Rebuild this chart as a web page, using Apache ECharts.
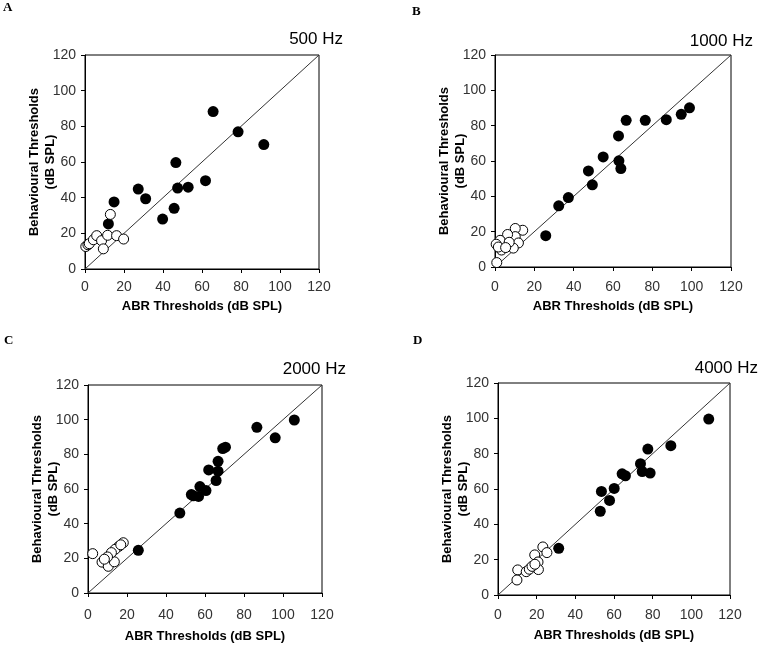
<!DOCTYPE html>
<html>
<head>
<meta charset="utf-8">
<script src="https://cdn.jsdelivr.net/npm/echarts@6/dist/echarts.min.js"></script>
<style>
html,body{margin:0;padding:0;background:#fff;}
#c{width:761px;height:649px;}
</style>
</head>
<body>
<div id="c"></div>
<script>
// ---- Data ----
var panelLetters = ['A', 'B', 'C', 'D'];
var panelTitles = ['500 Hz', '1000 Hz', '2000 Hz', '4000 Hz'];
var xTitle = 'ABR Thresholds (dB SPL)';
var yTitle = 'Behavioural Thresholds\n(dB SPL)';
var axisTicks = [0, 20, 40, 60, 80, 100, 120];
var diagonal = [[0, 0], [120, 120]];

// 500 Hz
var filled500 = [[65.7,88.3],[78.5,76.9],[91.7,69.8],[46.6,59.7],[61.8,49.5],[52.9,45.9],[47.5,45.4],[27.3,44.8],[31.1,39.4],[14.9,37.6],[45.7,34.0],[39.8,28.0],[12.0,25.3]];
var open500 = [[0.4,12.6],[1.5,13.6],[2.2,14.2],[4.3,16.4],[6.0,18.7],[8.5,15.9],[9.4,11.3],[11.6,18.9],[13.0,30.6],[16.2,18.7],[19.8,16.8]];

// 1000 Hz
var filled1000 = [[98.9,90.1],[94.7,86.4],[87.1,83.4],[76.4,83.0],[66.7,83.0],[62.8,74.2],[63.0,60.1],[64.0,55.7],[55.0,62.3],[47.5,54.4],[49.5,46.5],[37.3,39.3],[32.4,34.6],[25.8,17.7]];
var open1000 = [[14.1,20.8],[10.3,21.8],[10.3,17.2],[6.4,18.4],[2.6,15.1],[0.6,12.9],[0.9,2.5],[11.9,13.6],[9.3,10.7],[3.3,9.6],[7.2,14.0],[1.7,11.3],[5.4,11.0]];

// 2000 Hz
var filled2000 = [[105.8,99.8],[96.0,89.5],[86.6,95.6],[70.5,84.1],[69.1,83.3],[66.7,76.0],[66.7,70.3],[65.7,64.9],[61.9,71.0],[60.5,59.1],[57.4,61.4],[56.7,55.7],[53.0,56.8],[54.0,56.1],[47.1,46.1],[25.8,24.6]];
var open2000 = [[2.4,22.7],[7.2,17.8],[10.4,15.4],[13.5,18.0],[18.1,29.0],[15.8,26.9],[13.9,25.2],[12.0,23.3],[10.0,20.8],[8.4,19.5],[16.8,27.8]];

// 4000 Hz
var filled4000 = [[109.0,99.6],[89.4,84.5],[77.5,82.6],[78.7,69.0],[74.6,69.9],[73.7,74.3],[65.9,67.5],[64.2,68.6],[60.1,60.3],[57.7,53.5],[53.5,58.6],[52.9,47.4],[31.4,26.4]];
var open4000 = [[23.2,27.2],[25.3,24.0],[19.0,22.7],[20.7,18.7],[20.9,14.4],[10.2,14.2],[9.8,8.5],[14.6,13.2],[16.2,14.6],[17.6,16.2],[19.1,17.4]];

var filledSets = [filled500, filled1000, filled2000, filled4000];
var openSets = [open500, open1000, open2000, open4000];

// ---- Layout ----
var grids = [
  {left: 85, top: 55, width: 234, height: 214},
  {left: 495, top: 55, width: 236, height: 212},
  {left: 88, top: 385, width: 234, height: 208},
  {left: 498, top: 383, width: 232, height: 212}
];
var titlePos = [
  {right: 761 - 343, top: 31},
  {right: 761 - 753, top: 33},
  {right: 761 - 346, top: 361},
  {right: 761 - 758, top: 360}
];
var letterPos = [
  {left: 3, top: 1},
  {left: 412, top: 5},
  {left: 4, top: 334},
  {left: 413, top: 334}
];
var xLabelMargin = [11, 13, 15, 13];
var xNameGap = [29, 31, 35, 32];

var tickFont = '"Liberation Sans", Arial, sans-serif';
var boldFont = '"Liberation Sans", Arial, sans-serif';

var chart = echarts.init(document.getElementById('c'), null, {renderer: 'canvas'});

var option = {
  backgroundColor: '#ffffff',
  animation: false,
  title: [],
  grid: [],
  xAxis: [],
  yAxis: [],
  series: []
};

for (var i = 0; i < 4; i++) {
  option.grid.push(Object.assign({show: true, borderColor: '#000', borderWidth: 1, backgroundColor: 'transparent', containLabel: false}, grids[i]));
  option.title.push(Object.assign({
    text: panelTitles[i], padding: 0,
    textStyle: {fontFamily: boldFont, fontSize: 17, fontWeight: 'normal', color: '#000'}
  }, titlePos[i]));
  option.title.push(Object.assign({
    text: panelLetters[i], padding: 0,
    textStyle: {fontFamily: '"Liberation Serif", "Times New Roman", serif', fontSize: 13, fontWeight: 'bold', color: '#000'}
  }, letterPos[i]));
  var axisCommon = {
    gridIndex: i, type: 'value', min: 0, max: 120, interval: 20,
    axisLine: {show: true, onZero: false, lineStyle: {color: '#000', width: 1}},
    axisTick: {show: true, inside: false, length: 4, lineStyle: {color: '#000'}},
    splitLine: {show: false},
    axisLabel: {color: '#333', fontFamily: tickFont, fontSize: 14, formatter: function (v) { return axisTicks.indexOf(v) >= 0 ? String(v) : ''; }},
    nameLocation: 'middle',
    nameTextStyle: {fontFamily: boldFont, fontSize: 13, fontWeight: 'bold', color: '#000', lineHeight: 16}
  };
  option.xAxis.push(Object.assign({}, axisCommon, {
    name: xTitle, nameGap: xNameGap[i],
    axisLabel: Object.assign({}, axisCommon.axisLabel, {margin: xLabelMargin[i]})
  }));
  option.yAxis.push(Object.assign({}, axisCommon, {
    name: yTitle, nameGap: 27, nameRotate: 90, nameMoveOverlap: false,
    axisLabel: Object.assign({}, axisCommon.axisLabel, {margin: 9})
  }));
  option.series.push({
    type: 'line', xAxisIndex: i, yAxisIndex: i, data: diagonal,
    symbol: 'none', silent: true,
    lineStyle: {color: '#333', width: 1}, z: 1
  });
  option.series.push({
    type: 'scatter', xAxisIndex: i, yAxisIndex: i, data: filledSets[i],
    symbol: 'circle', symbolSize: 11, clip: false,
    itemStyle: {color: '#000', borderColor: '#000', borderWidth: 0, opacity: 1}, z: 3
  });
  option.series.push({
    type: 'scatter', xAxisIndex: i, yAxisIndex: i, data: openSets[i],
    symbol: 'circle', symbolSize: 10, clip: false,
    itemStyle: {color: '#fff', borderColor: '#000', borderWidth: 1, opacity: 1}, z: 4
  });
}

chart.setOption(option);
</script>
</body>
</html>
